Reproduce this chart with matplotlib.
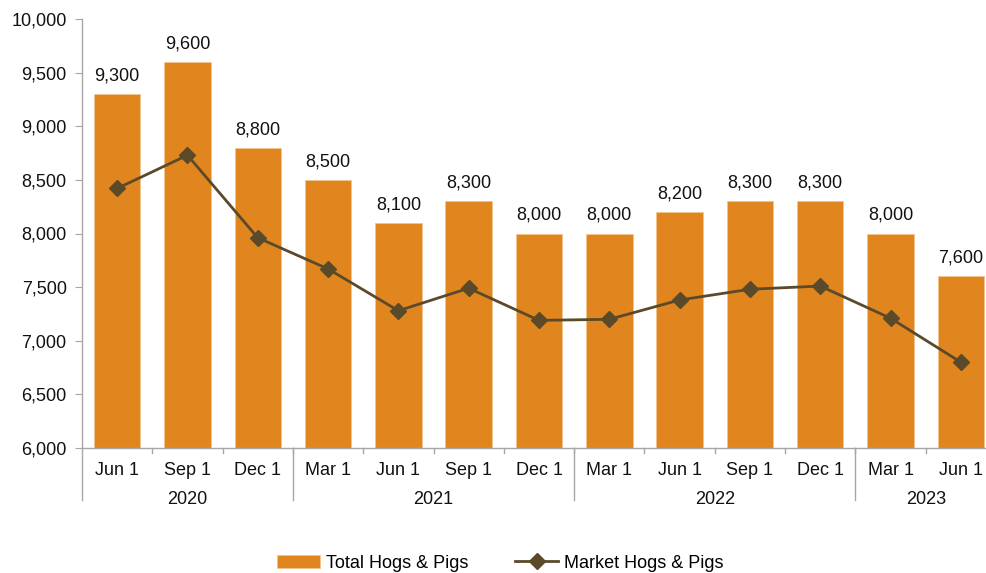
import numpy as np
import matplotlib.pyplot as plt

plt.rcParams['font.family'] = ['Liberation Sans', 'DejaVu Sans']

# quarterly inventory, 1,000 head
quarters = ["Jun 1", "Sep 1", "Dec 1", "Mar 1", "Jun 1", "Sep 1", "Dec 1",
            "Mar 1", "Jun 1", "Sep 1", "Dec 1", "Mar 1", "Jun 1"]
years = ["2020", "2021", "2022", "2023"]
year_counts = [3, 4, 4, 2]
total_hogs = [9300, 9600, 8800, 8500, 8100, 8300, 8000, 8000, 8200, 8300, 8300, 8000, 7600]
market_hogs = [8420, 8730, 7960, 7670, 7280, 7490, 7190, 7200, 7380, 7480, 7510, 7210, 6800]

bar_color = "#E1861E"
line_color = "#5B4A2A"
grey = "#A6A6A6"
fs = 13

fig = plt.figure(figsize=(9.87, 5.73), dpi=100)
ax = fig.add_axes([82 / 987, 1 - 448 / 573, 914 / 987, 429 / 573])

x = np.arange(len(quarters))
bars = ax.bar(x, total_hogs, width=0.66, color=bar_color, edgecolor="#F2C48E", linewidth=0.6,
              label="Total Hogs & Pigs", zorder=2)
line, = ax.plot(x, market_hogs, color=line_color, marker="D", markersize=8, linewidth=2,
                label="Market Hogs & Pigs", zorder=3)

for xi, v in zip(x, total_hogs):
    ax.text(xi, v + 90, f"{v:,}", ha="center", va="bottom", fontsize=fs, color="#111111")

ax.set_xlim(-0.5, len(quarters) - 0.5)
ax.set_ylim(6000, 10000)
ax.set_yticks(np.arange(6000, 10001, 500))
ax.set_yticklabels([f"{v:,}" for v in range(6000, 10001, 500)], fontsize=fs)

for s in ["top", "right"]:
    ax.spines[s].set_visible(False)
for s in ["left", "bottom"]:
    ax.spines[s].set_color(grey)
    ax.spines[s].set_linewidth(1)
ax.tick_params(axis="y", colors=grey, labelcolor="#111111", length=5, pad=6)

# quarter labels and short ticks between categories
ax.set_xticks(x)
ax.set_xticklabels(quarters, fontsize=fs, color="#111111")
ax.tick_params(axis="x", length=0, pad=10)
for b in np.arange(0.5, len(quarters) - 0.5, 1):
    ax.plot([b, b], [0, -0.012], transform=ax.get_xaxis_transform(), color=grey,
            linewidth=1, clip_on=False)

# year groups
bounds = [-0.5]
for cnt in year_counts:
    bounds.append(bounds[-1] + cnt)
for b in bounds[:-1]:
    ax.plot([b, b], [0, -0.122], transform=ax.get_xaxis_transform(), color=grey,
            linewidth=1, clip_on=False)
for yr, a, b in zip(years, bounds[:-1], bounds[1:]):
    ax.text((a + b) / 2, -0.12, yr, transform=ax.get_xaxis_transform(),
            ha="center", va="center", fontsize=fs, color="#111111")

ax.legend([bars, line], ["Total Hogs & Pigs", "Market Hogs & Pigs"],
          loc="center", bbox_to_anchor=(500 / 987, 1 - 563 / 573),
          bbox_transform=fig.transFigure, ncol=2, frameon=False, fontsize=fs,
          handlelength=2.4, columnspacing=2.6, handletextpad=0.3)

fig.savefig("out.png", dpi=100)
